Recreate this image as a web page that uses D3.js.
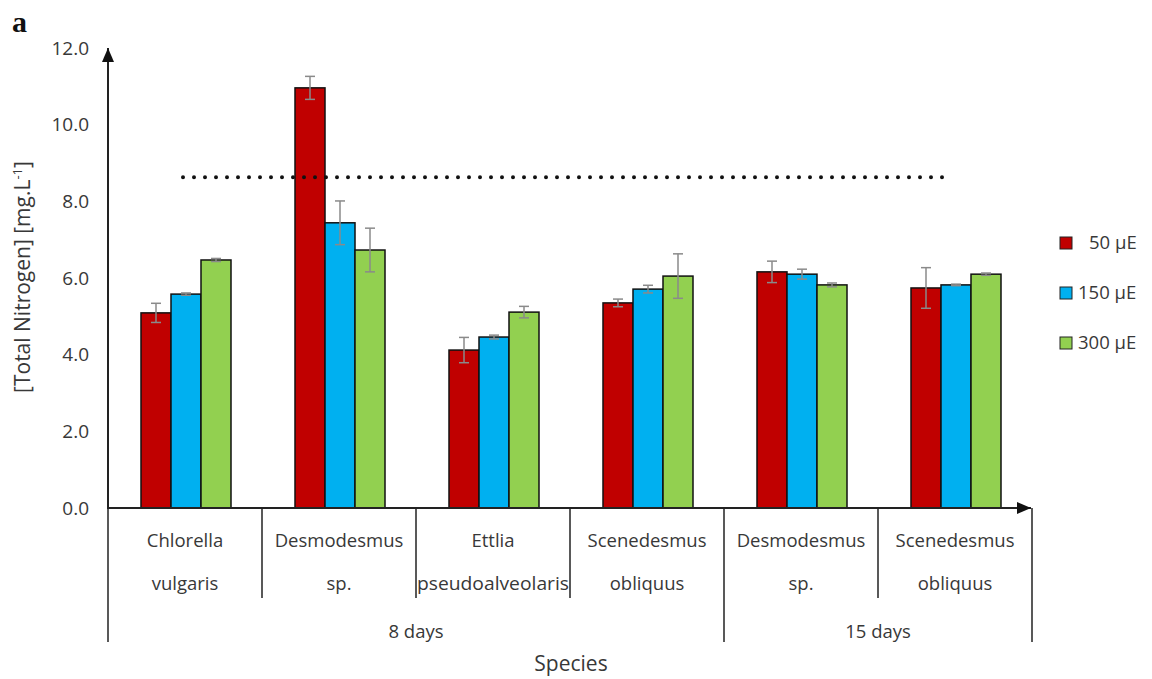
<!DOCTYPE html>
<html>
<head>
<meta charset="utf-8">
<script src="https://cdn.jsdelivr.net/npm/d3@7"></script>
<style>
  body { margin: 0; background: #fff; }
  text.lbl { font-family: "Open Sans", Lato, sans-serif; fill: #383838; }
</style>
</head>
<body>
<div id="chart"></div>
<script>
// species names split over two lines as in the original axis
var speciesLine1 = ["Chlorella", "Desmodesmus", "Ettlia", "Scenedesmus", "Desmodesmus", "Scenedesmus"];
var speciesLine2 = ["vulgaris", "sp.", "pseudoalveolaris", "obliquus", "sp.", "obliquus"];
var periods = ["8 days", "15 days"];
var periodSizes = [4, 2];

var series = ["50 µE", "150 µE", "300 µE"];
var values50 = [5.09, 10.96, 4.12, 5.35, 6.16, 5.74];
var values150 = [5.58, 7.44, 4.46, 5.71, 6.10, 5.82];
var values300 = [6.47, 6.73, 5.11, 6.05, 5.82, 6.10];
var err50 = [0.25, 0.30, 0.33, 0.10, 0.28, 0.53];
var err150 = [0.03, 0.57, 0.05, 0.10, 0.13, 0.02];
var err300 = [0.04, 0.57, 0.15, 0.58, 0.05, 0.03];
var yTicks = [0, 2, 4, 6, 8, 10, 12];
var referenceLevel = 8.63;

var w = 1152, h = 679;
var colors = ["#c00000", "#00b0f0", "#92d050"];

var svg = d3.select('#chart').append('svg')
	.attr('width', w)
	.attr('height', h);

var ids = d3.range(speciesLine1.length);
var x0 = d3.scaleBand().domain(ids).range([108, 1032]);
var x1 = d3.scaleBand().domain(series).range([33, 123]);
var y = d3.scaleLinear().domain([0, 12]).range([508, 48]);

var allValues = [values50, values150, values300];
var allErr = [err50, err150, err300];

var rows = [];
ids.forEach(function (i) {
	series.forEach(function (s, k) {
		rows.push({ i: i, s: s, k: k, v: allValues[k][i], e: allErr[k][i] });
	});
});

// bars
svg.selectAll('rect.bar')
	.data(rows)
	.enter()
	.append('rect')
	.attr('class', 'bar')
	.attr('x', function (d) { return x0(d.i) + x1(d.s); })
	.attr('y', function (d) { return y(d.v); })
	.attr('width', x1.bandwidth())
	.attr('height', function (d) { return y(0) - y(d.v); })
	.attr('fill', function (d) { return colors[d.k]; })
	.attr('stroke', '#111')
	.attr('stroke-width', 1.5);

// error bars
var eb = svg.selectAll('g.err')
	.data(rows)
	.enter()
	.append('g')
	.attr('stroke', '#8a8a8a')
	.attr('stroke-width', 1.5);
eb.append('line')
	.attr('x1', function (d) { return x0(d.i) + x1(d.s) + x1.bandwidth() / 2; })
	.attr('x2', function (d) { return x0(d.i) + x1(d.s) + x1.bandwidth() / 2; })
	.attr('y1', function (d) { return y(d.v - d.e); })
	.attr('y2', function (d) { return y(d.v + d.e); });
[-1, 1].forEach(function (sign) {
	eb.append('line')
		.attr('x1', function (d) { return x0(d.i) + x1(d.s) + x1.bandwidth() / 2 - 5; })
		.attr('x2', function (d) { return x0(d.i) + x1(d.s) + x1.bandwidth() / 2 + 5; })
		.attr('y1', function (d) { return y(d.v + sign * d.e); })
		.attr('y2', function (d) { return y(d.v + sign * d.e); });
});

// dotted reference line
svg.append('line')
	.attr('x1', 183)
	.attr('x2', 953)
	.attr('y1', y(referenceLevel))
	.attr('y2', y(referenceLevel))
	.attr('stroke', '#111')
	.attr('stroke-width', 4)
	.attr('stroke-linecap', 'round')
	.attr('stroke-dasharray', '0 11');

// axes with arrow heads
svg.append('defs').append('marker')
	.attr('id', 'arrow')
	.attr('viewBox', '0 0 14 12')
	.attr('refX', 14).attr('refY', 6)
	.attr('markerWidth', 14).attr('markerHeight', 12)
	.attr('markerUnits', 'userSpaceOnUse')
	.attr('orient', 'auto')
	.append('path')
	.attr('d', 'M0,0 L14,6 L0,12 Z')
	.attr('fill', '#111');

svg.append('line')
	.attr('x1', 108).attr('x2', 108)
	.attr('y1', y(0) + 1).attr('y2', y(12))
	.attr('stroke', '#222').attr('stroke-width', 2)
	.attr('marker-end', 'url(#arrow)');
svg.append('line')
	.attr('x1', 108).attr('x2', 1031)
	.attr('y1', y(0)).attr('y2', y(0))
	.attr('stroke', '#222').attr('stroke-width', 2)
	.attr('marker-end', 'url(#arrow)');

svg.selectAll('text.ytick')
	.data(yTicks)
	.enter()
	.append('text')
	.attr('class', 'lbl')
	.attr('x', 89)
	.attr('y', function (d) { return y(d); })
	.attr('dy', '.35em')
	.attr('text-anchor', 'end')
	.attr('font-size', '19px')
	.text(function (d) { return d.toFixed(1); });

// category dividers
var bounds = ids.concat([ids.length]);
var periodEdges = [0];
periodSizes.forEach(function (n, j) { periodEdges.push(periodEdges[j] + n); });
function edgeX(i) { return i < ids.length ? x0(i) : x0.range()[1]; }

svg.selectAll('line.div')
	.data(bounds)
	.enter()
	.append('line')
	.attr('x1', function (i) { return edgeX(i); })
	.attr('x2', function (i) { return edgeX(i); })
	.attr('y1', y(0))
	.attr('y2', function (i) { return periodEdges.indexOf(i) >= 0 ? 642 : 598; })
	.attr('stroke', '#222')
	.attr('stroke-width', 1.5);

svg.selectAll('text.sp1')
	.data(ids)
	.enter()
	.append('text')
	.attr('class', 'lbl')
	.attr('x', function (i) { return x0(i) + x0.bandwidth() / 2; })
	.attr('y', 547)
	.attr('text-anchor', 'middle')
	.attr('font-size', '18.5px')
	.text(function (i) { return speciesLine1[i]; });
svg.selectAll('text.sp2')
	.data(ids)
	.enter()
	.append('text')
	.attr('class', 'lbl')
	.attr('x', function (i) { return x0(i) + x0.bandwidth() / 2; })
	.attr('y', 590)
	.attr('text-anchor', 'middle')
	.attr('font-size', '18.5px')
	.attr('textLength', function (i) { return speciesLine2[i].length > 12 ? 152 : null; })
	.attr('lengthAdjust', 'spacingAndGlyphs')
	.text(function (i) { return speciesLine2[i]; });

svg.selectAll('text.period')
	.data(periods)
	.enter()
	.append('text')
	.attr('class', 'lbl')
	.attr('x', function (d, j) { return (edgeX(periodEdges[j]) + edgeX(periodEdges[j + 1])) / 2; })
	.attr('y', 638)
	.attr('text-anchor', 'middle')
	.attr('font-size', '18.5px')
	.text(function (d) { return d; });

svg.append('text')
	.attr('class', 'lbl')
	.attr('x', 571).attr('y', 671)
	.attr('text-anchor', 'middle')
	.attr('font-size', '21px')
	.text('Species');

var yt = svg.append('text')
	.attr('class', 'lbl')
	.attr('transform', 'translate(30,277) rotate(-90)')
	.attr('text-anchor', 'middle')
	.attr('font-size', '21px');
yt.append('tspan').text('[Total Nitrogen] [mg.L');
yt.append('tspan').attr('dy', -8).attr('font-size', '13px').text('-1');
yt.append('tspan').attr('dy', 8).text(']');

svg.append('text')
	.attr('x', 12).attr('y', 32)
	.style('font-family', '"Liberation Serif", "DejaVu Serif", serif')
	.style('font-weight', 'bold')
	.style('font-size', '30px')
	.style('fill', '#111')
	.text('a');

// legend
var leg = svg.selectAll('g.leg')
	.data(series)
	.enter()
	.append('g')
	.attr('transform', function (d, k) { return 'translate(1060,' + (237 + k * 50) + ')'; });
leg.append('rect')
	.attr('width', 12).attr('height', 12)
	.attr('fill', function (d, k) { return colors[k]; })
	.attr('stroke', '#222').attr('stroke-width', 1);
leg.append('text')
	.attr('class', 'lbl')
	.attr('x', function (d, k) { return k === 0 ? 29 : 18; })
	.attr('y', 6)
	.attr('dy', '.35em')
	.attr('font-size', '18.5px')
	.text(function (d) { return d; });
</script>
</body>
</html>
